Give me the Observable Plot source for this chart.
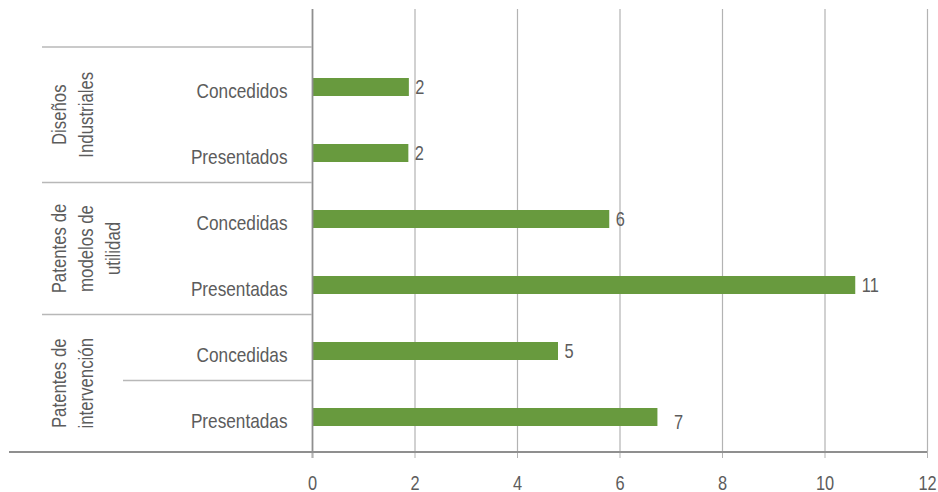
<!DOCTYPE html>
<html><head><meta charset="utf-8">
<script src="https://cdn.jsdelivr.net/npm/d3@7"></script>
<script src="https://cdn.jsdelivr.net/npm/@observablehq/plot@0.6"></script>
<style>html,body{margin:0;padding:0;background:#fff;}</style>
</head><body><div id="chart"></div>
<script>
// ---- data ----
const groupNames = ["Diseños\nIndustriales", "Patentes de\nmodelos de\nutilidad", "Patentes de\nintervención"];
const categories = ["Concedidos", "Presentados", "Concedidas", "Presentadas", "Concedidas", "Presentadas"];
const categoryGroup = [0, 0, 1, 1, 2, 2];
const values = [1.89, 1.88, 5.80, 10.60, 4.80, 6.74];
const valueLabels = ["2", "2", "6", "11", "5", "7"];
const xTicks = [0, 2, 4, 6, 8, 10, 12];

// ---- style ----
const FONT = '"Liberation Sans Narrow","Arial Narrow","Liberation Sans",Arial,sans-serif';
const NARROW = 0.82; // horizontal squeeze to mimic a narrow face
const GREEN = "#689a3e", TEXT = "#5c5c5c", AXIS = "#8f8f8f", GRID = "#b3b3b3", SEP = "#b8b8b8";
const nudged = [false, false, false, false, false, true];

const data = categories.map((c, i) => ({key: `${i}|${c}`, cat: c, group: categoryGroup[i], value: values[i], label: valueLabels[i], nudged: nudged[i]}));

const chart = Plot.plot({
  width: 938, height: 492,
  marginLeft: 312, marginRight: 11, marginTop: 9, marginBottom: 40,
  style: {fontFamily: FONT, background: "#fff", overflow: "visible"},
  x: {domain: [0, 12], axis: null},
  y: {domain: data.map(d => d.key), range: [52, 452], paddingInner: 0.72, paddingOuter: 0.36, axis: null},
  marks: [
    Plot.gridX(xTicks.filter(t => t > 0), {stroke: GRID, strokeOpacity: 1, strokeWidth: 1.2}),
    Plot.barX(data, {x: "value", y: "key", fill: GREEN}),
    Plot.ruleX([0], {stroke: AXIS, strokeWidth: 1.8, insetBottom: -6}),
    Plot.axisX({ticks: xTicks, tickSize: 6, tickPadding: 17, fontSize: 20, stroke: GRID, fill: TEXT, label: null, tickFormat: d => String(d)}),
    Plot.axisY({tickSize: 0, tickPadding: 25, fontSize: 21, fill: TEXT, dy: 4, label: null, tickFormat: k => k.split("|")[1]}),
    Plot.text(data.filter(d => !d.nudged), {x: "value", y: "key", text: "label", textAnchor: "start", dx: 6, dy: 0, fontSize: 20, fill: TEXT}),
    Plot.text(data.filter(d => d.nudged), {x: "value", y: "key", text: "label", textAnchor: "start", dx: 16, dy: 5, fontSize: 20, fill: TEXT})
  ]
});
document.getElementById("chart").appendChild(chart);

// ---- hierarchical category axis decorations (derived from the scales) ----
const svg = d3.select(chart);
const ys = chart.scale("y"), xs = chart.scale("x");
const gap = ys.step - ys.bandwidth;
const above = i => ys.apply(data[i].key) - gap / 2;
const bottom = ys.range[1];
const left = xs.range[0];
const deco = svg.append("g");

// bottom axis line
deco.append("line").attr("x1", 9).attr("x2", xs.range[1]).attr("y1", bottom).attr("y2", bottom)
  .attr("stroke", AXIS).attr("stroke-width", 1.8);

// group separators and labels
groupNames.forEach((name, g) => {
  const idx = data.map((d, i) => d.group === g ? i : -1).filter(i => i >= 0);
  const first = idx[0], last = idx[idx.length - 1];
  const top = above(first) - (first === 0 ? 7 : 3.5);
  const end = last + 1 < data.length ? above(last + 1) - 3.5 : bottom;
  deco.append("line").attr("x1", 42).attr("x2", left).attr("y1", top).attr("y2", top)
    .attr("stroke", SEP).attr("stroke-width", 1.3);
  const t = deco.append("text")
    .attr("transform", `translate(66,${(top + end) / 2}) rotate(-90)`)
    .attr("text-anchor", "middle").attr("fill", TEXT)
    .style("font-family", FONT).style("font-size", "20.5px");
  name.split("\n").forEach((line, j) => t.append("tspan").attr("x", 0).attr("y", j * 27).text(line));
});
// short separator inside the last group
{
  const i = data.length - 1;
  const y = above(i) - 3.5;
  deco.append("line").attr("x1", 123).attr("x2", left).attr("y1", y).attr("y2", y)
    .attr("stroke", SEP).attr("stroke-width", 1.3);
}

// squeeze every text horizontally (along its own direction) to mimic the narrow face
svg.selectAll("text").each(function () {
  const el = d3.select(this);
  let tr = el.attr("transform");
  if (!tr) {
    const x = +(el.attr("x") || 0), y = +(el.attr("y") || 0);
    el.attr("x", null).attr("y", null);
    tr = `translate(${x},${y})`;
  }
  el.attr("transform", `${tr} scale(${NARROW},1)`);
});
</script>
</body></html>
